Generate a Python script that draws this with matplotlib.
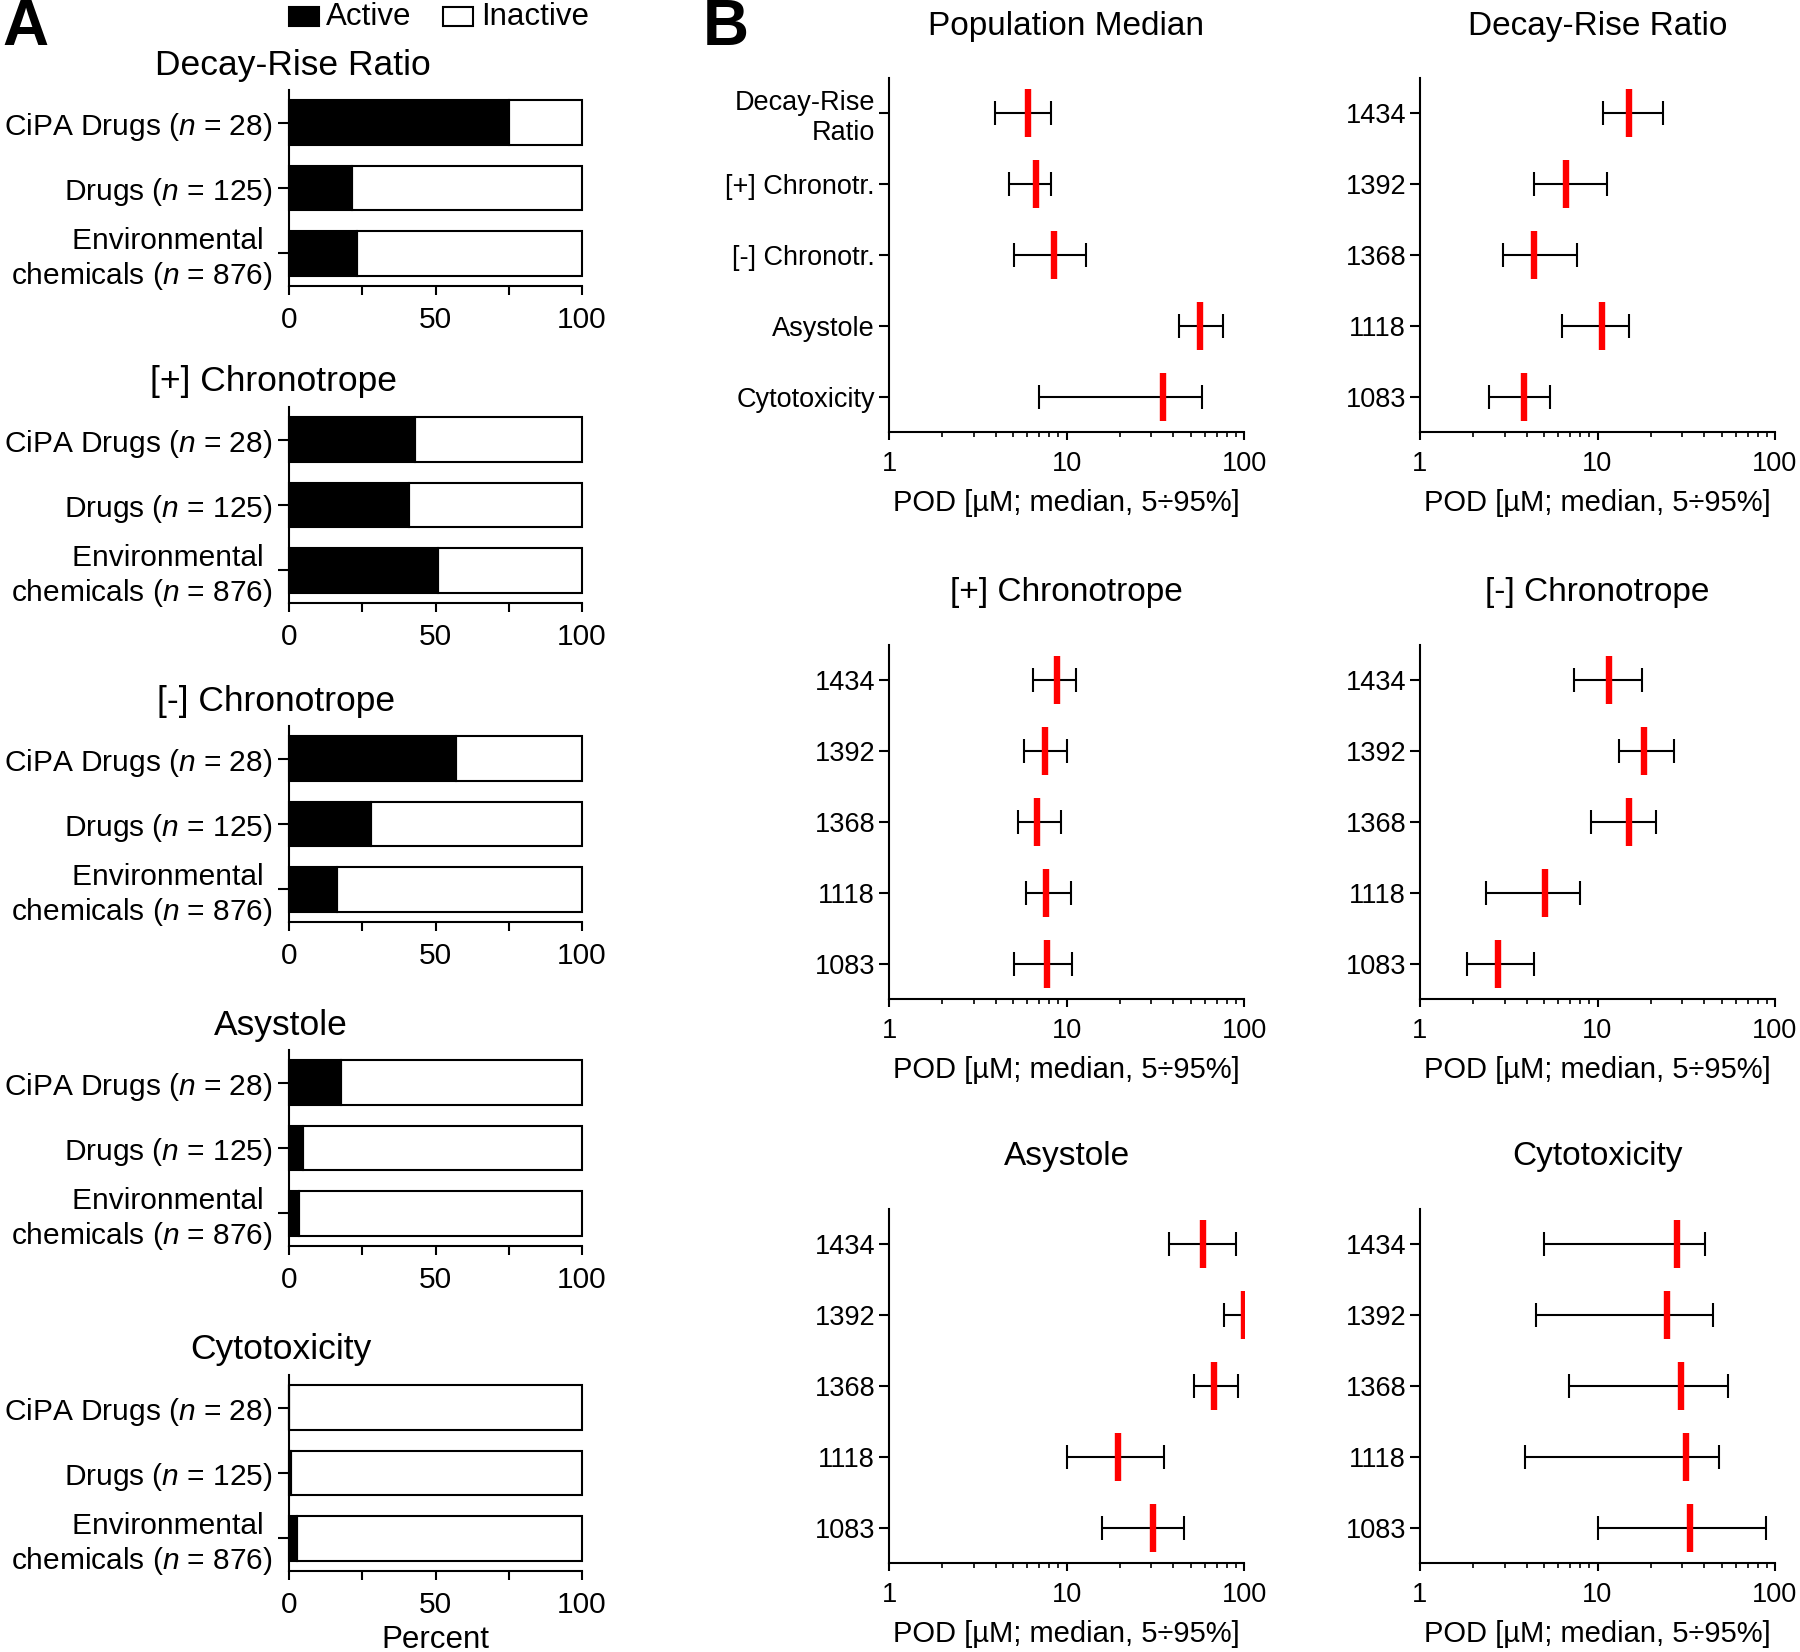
import matplotlib
matplotlib.use('Agg')
import matplotlib.pyplot as plt
import matplotlib.patches as patches
import numpy as np

# ---- data: panel A (percent active) ----
groups = ["CiPA Drugs ($n$ = 28)", "Drugs ($n$ = 125)", "Environmental \nchemicals ($n$ = 876)"]
endpoints_a = ["Decay-Rise Ratio", "[+] Chronotrope", "[-] Chronotrope", "Asystole", "Cytotoxicity"]
active_cipa = [75.0, 42.9, 57.1, 17.9, 0.0]
active_drugs = [21.6, 40.8, 28.0, 4.8, 0.8]
active_env = [23.3, 51.0, 16.5, 3.5, 2.7]

# ---- data: panel B (POD, uM; median and 5-95%) ----
donors = ["1434", "1392", "1368", "1118", "1083"]
pop_labels = ["Decay-Rise\nRatio", "[+] Chronotr.", "[-] Chronotr.", "Asystole", "Cytotoxicity"]
pop_med = [6.08, 6.77, 8.54, 56.2, 35.0]
pop_lo = [3.93, 4.73, 5.08, 43.2, 6.96]
pop_hi = [8.23, 8.23, 12.9, 76.0, 58.1]

drr_med = [15.1, 6.64, 4.39, 10.6, 3.84]
drr_lo = [10.8, 4.41, 2.93, 6.30, 2.46]
drr_hi = [23.4, 11.3, 7.69, 15.1, 5.37]

pchr_med = [8.80, 7.59, 6.84, 7.69, 7.76]
pchr_lo = [6.44, 5.73, 5.36, 5.90, 5.09]
pchr_hi = [11.3, 10.1, 9.35, 10.6, 10.8]

nchr_med = [11.6, 18.3, 15.0, 5.05, 2.75]
nchr_lo = [7.39, 13.3, 9.23, 2.34, 1.84]
nchr_hi = [17.8, 27.0, 21.3, 7.93, 4.41]

asy_med = [59.0, 100.0, 67.5, 19.5, 30.8]
asy_lo = [38.0, 76.9, 52.1, 10.1, 15.8]
asy_hi = [89.8, 100.0, 92.5, 35.2, 45.8]

cyt_med = [28.0, 24.7, 29.4, 31.7, 33.3]
cyt_lo = [4.98, 4.49, 6.94, 3.88, 10.0]
cyt_hi = [40.4, 44.6, 54.4, 48.4, 88.7]

W, H = 1800, 1652
plt.rcParams['font.family'] = ['Liberation Sans', 'DejaVu Sans']
plt.rcParams['mathtext.fontset'] = 'custom'
plt.rcParams['mathtext.rm'] = 'Liberation Sans'
plt.rcParams['mathtext.it'] = 'Liberation Sans:italic'


def add_ax(fig, x0, y0, w, h):
    # pixel box (top-left origin) -> figure fraction
    return fig.add_axes([x0 / W, 1 - (y0 + h) / H, w / W, h / H])


def ftext(fig, x, y, s, **kw):
    return fig.text(x / W, 1 - y / H, s, **kw)


def style_spines(ax):
    for side in ('top', 'right'):
        ax.spines[side].set_visible(False)
    for side in ('left', 'bottom'):
        ax.spines[side].set_linewidth(1.5)


def draw_panel_a(fig):
    tops = [90, 407, 726, 1050, 1375]
    title_x = [293, 274, 276, 281, 281]
    x0, w, h = 289, 293, 196
    y = np.arange(len(groups))
    for k, name in enumerate(endpoints_a):
        ax = add_ax(fig, x0, tops[k], w, h)
        active = np.array([active_cipa[k], active_drugs[k], active_env[k]])
        ax.barh(y, 100 - active, left=active, height=0.68, color='white',
                edgecolor='black', linewidth=1.5, clip_on=False)
        ax.barh(y, active, height=0.68, color='black', edgecolor='black',
                linewidth=1.5, clip_on=False)
        ax.set_xlim(0, 100)
        ax.set_ylim(2.5, -0.5)
        ax.set_yticks(y, groups)
        ax.set_xticks([0, 50, 100])
        ax.set_xticks([25, 75], minor=True)
        ax.tick_params(axis='y', length=8, width=1.5, pad=4, labelsize=21.5)
        ax.tick_params(axis='x', which='both', length=6.5, width=1.5, pad=8, labelsize=21.5)
        style_spines(ax)
        ftext(fig, title_x[k], tops[k] - 25, name, ha='center', va='center', fontsize=25.5)
    ftext(fig, x0 + w / 2, tops[-1] + h + 69, "Percent", ha='center', va='center', fontsize=22.5)

    # legend swatches
    fig.add_artist(patches.Rectangle((289 / W, 1 - 26 / H), 30 / W, 19 / H,
                                     transform=fig.transFigure, facecolor='black',
                                     edgecolor='black', linewidth=1.5))
    ftext(fig, 326, 17, "Active", ha='left', va='center', fontsize=22.5)
    fig.add_artist(patches.Rectangle((443 / W, 1 - 26 / H), 30 / W, 19 / H,
                                     transform=fig.transFigure, facecolor='white',
                                     edgecolor='black', linewidth=1.5))
    ftext(fig, 481, 17, "Inactive", ha='left', va='center', fontsize=22.5)


def draw_forest(fig, x0, y0, labels, med, lo, hi, title):
    w, h = 355, 354
    ax = add_ax(fig, x0, y0, w, h)
    y = np.arange(len(labels))
    med = np.array(med)
    xerr = [med - np.array(lo), np.array(hi) - med]
    ax.errorbar(med, y, xerr=xerr, fmt='none', ecolor='black', elinewidth=1.5,
                capsize=8.3, capthick=1.5)
    ax.plot(med, y, ls='none', marker='|', ms=34, mew=4.6, color='#ff0000', zorder=3)
    ax.set_xscale('log')
    ax.set_xlim(1, 100)
    ax.set_ylim(4.5, -0.5)
    ax.set_yticks(y, labels)
    ax.set_xticks([1, 10, 100], ['1', '10', '100'])
    ax.tick_params(axis='y', length=7, width=1.5, pad=3, labelsize=19.5)
    ax.tick_params(axis='x', which='major', length=6, width=1.5, pad=8, labelsize=19.5)
    ax.tick_params(axis='x', which='minor', length=3.6, width=1.2)
    style_spines(ax)
    ftext(fig, x0 + w / 2, y0 - 52, title, ha='center', va='center', fontsize=24)
    ftext(fig, x0 + w / 2, y0 + h + 71, "POD [\u00b5M; median, 5\u00f795%]",
          ha='center', va='center', fontsize=21)


fig = plt.figure(figsize=(18, 16.52), dpi=100)

ftext(fig, 2, 28, "A", ha='left', va='center', fontsize=46, fontweight='bold')
ftext(fig, 703, 28, "B", ha='left', va='center', fontsize=46, fontweight='bold')

draw_panel_a(fig)

cols = [889, 1420]
rows = [78, 645, 1209]
draw_forest(fig, cols[0], rows[0], pop_labels, pop_med, pop_lo, pop_hi, "Population Median")
draw_forest(fig, cols[1], rows[0], donors, drr_med, drr_lo, drr_hi, "Decay-Rise Ratio")
draw_forest(fig, cols[0], rows[1], donors, pchr_med, pchr_lo, pchr_hi, "[+] Chronotrope")
draw_forest(fig, cols[1], rows[1], donors, nchr_med, nchr_lo, nchr_hi, "[-] Chronotrope")
draw_forest(fig, cols[0], rows[2], donors, asy_med, asy_lo, asy_hi, "Asystole")
draw_forest(fig, cols[1], rows[2], donors, cyt_med, cyt_lo, cyt_hi, "Cytotoxicity")

fig.savefig("out.png", dpi=100, facecolor='white')
